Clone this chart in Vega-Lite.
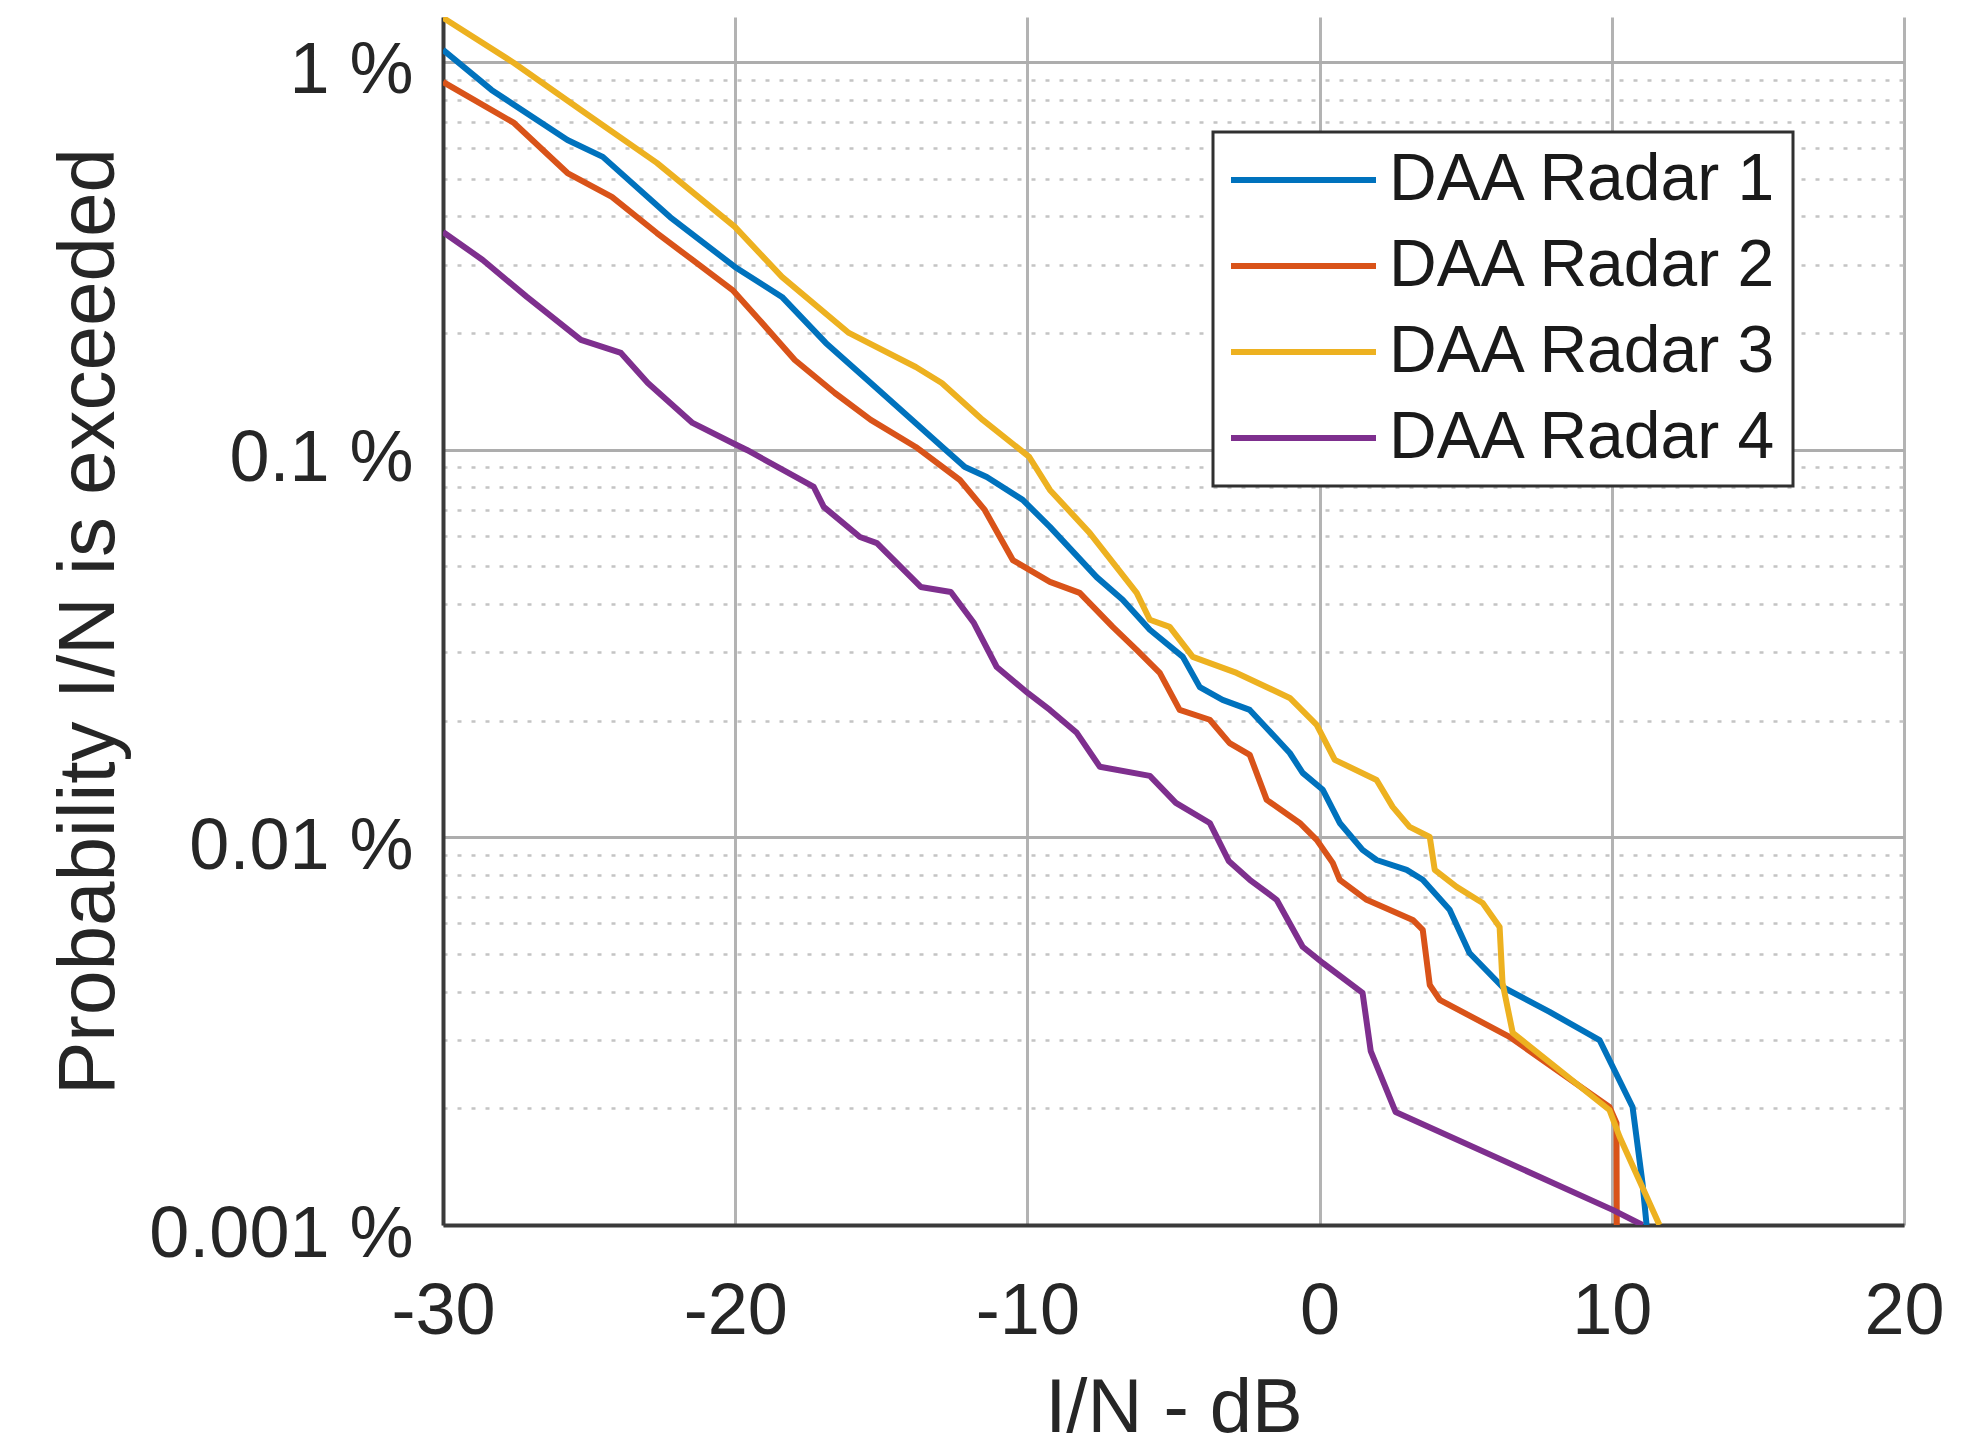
{
 "$schema": "https://vega.github.io/schema/vega-lite/v6.json",
 "width": 1461,
 "height": 1208,
 "autosize": {"type": "none"},
 "padding": {"left": 443, "top": 17, "right": 64, "bottom": 223},
 "background": "white",
 "config": {
  "view": {"stroke": null},
  "font": "Liberation Sans",
  "axis": {"labelFont": "Liberation Sans", "titleFont": "Liberation Sans", "labelColor": "#262626", "titleColor": "#262626", "titleFontWeight": "normal", "domainColor": "#3a3a3a", "domainWidth": 4, "ticks": false, "labelFlush": false, "labelOverlap": false, "labelLimit": 0},
  "legend": {"strokeWidth": 3}
 },
 "datasets": {
  "curves": [
   {"s":"DAA Radar 1","i":0,"x":-30.0,"p":1.074},{"s":"DAA Radar 1","i":1,"x":-28.34,"p":0.847},{"s":"DAA Radar 1","i":2,"x":-25.74,"p":0.629},{"s":"DAA Radar 1","i":3,"x":-24.53,"p":0.569},{"s":"DAA Radar 1","i":4,"x":-22.23,"p":0.398},{"s":"DAA Radar 1","i":5,"x":-20.01,"p":0.296},{"s":"DAA Radar 1","i":6,"x":-18.4,"p":0.2477},{"s":"DAA Radar 1","i":7,"x":-16.9,"p":0.1885},{"s":"DAA Radar 1","i":8,"x":-15.36,"p":0.1486},{"s":"DAA Radar 1","i":9,"x":-12.91,"p":0.1016},{"s":"DAA Radar 1","i":10,"x":-12.14,"p":0.0902},{"s":"DAA Radar 1","i":11,"x":-11.39,"p":0.085},{"s":"DAA Radar 1","i":12,"x":-10.16,"p":0.0742},{"s":"DAA Radar 1","i":13,"x":-9.23,"p":0.0632},{"s":"DAA Radar 1","i":14,"x":-7.63,"p":0.0469},{"s":"DAA Radar 1","i":15,"x":-6.74,"p":0.041},{"s":"DAA Radar 1","i":16,"x":-5.81,"p":0.0343},{"s":"DAA Radar 1","i":17,"x":-4.68,"p":0.0292},{"s":"DAA Radar 1","i":18,"x":-4.1,"p":0.0244},{"s":"DAA Radar 1","i":19,"x":-3.32,"p":0.02262},{"s":"DAA Radar 1","i":20,"x":-2.39,"p":0.02131},{"s":"DAA Radar 1","i":21,"x":-1.02,"p":0.0165},{"s":"DAA Radar 1","i":22,"x":-0.58,"p":0.01466},{"s":"DAA Radar 1","i":23,"x":0.11,"p":0.01326},{"s":"DAA Radar 1","i":24,"x":0.69,"p":0.01089},{"s":"DAA Radar 1","i":25,"x":1.47,"p":0.00928},{"s":"DAA Radar 1","i":26,"x":1.95,"p":0.00874},{"s":"DAA Radar 1","i":27,"x":2.98,"p":0.00824},{"s":"DAA Radar 1","i":28,"x":3.53,"p":0.00777},{"s":"DAA Radar 1","i":29,"x":4.45,"p":0.0065},{"s":"DAA Radar 1","i":30,"x":5.13,"p":0.00503},{"s":"DAA Radar 1","i":31,"x":6.26,"p":0.00411},{"s":"DAA Radar 1","i":32,"x":7.87,"p":0.003545},{"s":"DAA Radar 1","i":33,"x":9.58,"p":0.003},{"s":"DAA Radar 1","i":34,"x":10.71,"p":0.002016},{"s":"DAA Radar 1","i":35,"x":11.05,"p":0.001284},{"s":"DAA Radar 1","i":36,"x":11.19,"p":0.001},
   {"s":"DAA Radar 2","i":0,"x":-30.0,"p":0.888},{"s":"DAA Radar 2","i":1,"x":-27.57,"p":0.696},{"s":"DAA Radar 2","i":2,"x":-25.74,"p":0.517},{"s":"DAA Radar 2","i":3,"x":-24.22,"p":0.4485},{"s":"DAA Radar 2","i":4,"x":-22.68,"p":0.362},{"s":"DAA Radar 2","i":5,"x":-21.46,"p":0.3085},{"s":"DAA Radar 2","i":6,"x":-20.09,"p":0.258},{"s":"DAA Radar 2","i":7,"x":-19.17,"p":0.216},{"s":"DAA Radar 2","i":8,"x":-17.96,"p":0.1703},{"s":"DAA Radar 2","i":9,"x":-16.59,"p":0.14},{"s":"DAA Radar 2","i":10,"x":-15.36,"p":0.1193},{"s":"DAA Radar 2","i":11,"x":-13.82,"p":0.1016},{"s":"DAA Radar 2","i":12,"x":-12.31,"p":0.0835},{"s":"DAA Radar 2","i":13,"x":-11.46,"p":0.0699},{"s":"DAA Radar 2","i":14,"x":-10.5,"p":0.0519},{"s":"DAA Radar 2","i":15,"x":-9.23,"p":0.0456},{"s":"DAA Radar 2","i":16,"x":-8.21,"p":0.0427},{"s":"DAA Radar 2","i":17,"x":-7.08,"p":0.0349},{"s":"DAA Radar 2","i":18,"x":-6.26,"p":0.03045},{"s":"DAA Radar 2","i":19,"x":-5.47,"p":0.02655},{"s":"DAA Radar 2","i":20,"x":-4.79,"p":0.02131},{"s":"DAA Radar 2","i":21,"x":-3.76,"p":0.0201},{"s":"DAA Radar 2","i":22,"x":-3.08,"p":0.0175},{"s":"DAA Radar 2","i":23,"x":-2.39,"p":0.01632},{"s":"DAA Radar 2","i":24,"x":-1.81,"p":0.01249},{"s":"DAA Radar 2","i":25,"x":-0.68,"p":0.01089},{"s":"DAA Radar 2","i":26,"x":-0.1,"p":0.00985},{"s":"DAA Radar 2","i":27,"x":0.45,"p":0.00859},{"s":"DAA Radar 2","i":28,"x":0.69,"p":0.00777},{"s":"DAA Radar 2","i":29,"x":1.61,"p":0.0069},{"s":"DAA Radar 2","i":30,"x":3.19,"p":0.00612},{"s":"DAA Radar 2","i":31,"x":3.53,"p":0.00577},{"s":"DAA Radar 2","i":32,"x":3.77,"p":0.00416},{"s":"DAA Radar 2","i":33,"x":4.11,"p":0.00381},{"s":"DAA Radar 2","i":34,"x":6.5,"p":0.003056},{"s":"DAA Radar 2","i":35,"x":9.92,"p":0.002016},{"s":"DAA Radar 2","i":36,"x":10.16,"p":0.001834},{"s":"DAA Radar 2","i":37,"x":10.17,"p":0.001},
   {"s":"DAA Radar 3","i":0,"x":-30.0,"p":1.3},{"s":"DAA Radar 3","i":1,"x":-27.57,"p":0.994},{"s":"DAA Radar 3","i":2,"x":-25.28,"p":0.752},{"s":"DAA Radar 3","i":3,"x":-22.68,"p":0.549},{"s":"DAA Radar 3","i":4,"x":-20.01,"p":0.3754},{"s":"DAA Radar 3","i":5,"x":-18.4,"p":0.279},{"s":"DAA Radar 3","i":6,"x":-16.11,"p":0.2},{"s":"DAA Radar 3","i":7,"x":-13.82,"p":0.1634},{"s":"DAA Radar 3","i":8,"x":-12.93,"p":0.1486},{"s":"DAA Radar 3","i":9,"x":-11.53,"p":0.1193},{"s":"DAA Radar 3","i":10,"x":-9.94,"p":0.0958},{"s":"DAA Radar 3","i":11,"x":-9.23,"p":0.0787},{"s":"DAA Radar 3","i":12,"x":-7.87,"p":0.061},{"s":"DAA Radar 3","i":13,"x":-6.26,"p":0.0427},{"s":"DAA Radar 3","i":14,"x":-5.81,"p":0.0364},{"s":"DAA Radar 3","i":15,"x":-5.13,"p":0.0349},{"s":"DAA Radar 3","i":16,"x":-4.34,"p":0.0292},{"s":"DAA Radar 3","i":17,"x":-2.84,"p":0.02655},{"s":"DAA Radar 3","i":18,"x":-1.02,"p":0.02288},{"s":"DAA Radar 3","i":19,"x":-0.1,"p":0.0195},{"s":"DAA Radar 3","i":20,"x":0.52,"p":0.01584},{"s":"DAA Radar 3","i":21,"x":1.95,"p":0.01406},{"s":"DAA Radar 3","i":22,"x":2.5,"p":0.01198},{"s":"DAA Radar 3","i":23,"x":3.08,"p":0.01064},{"s":"DAA Radar 3","i":24,"x":3.77,"p":0.01002},{"s":"DAA Radar 3","i":25,"x":3.94,"p":0.00824},{"s":"DAA Radar 3","i":26,"x":4.69,"p":0.00745},{"s":"DAA Radar 3","i":27,"x":5.58,"p":0.00677},{"s":"DAA Radar 3","i":28,"x":6.16,"p":0.00587},{"s":"DAA Radar 3","i":29,"x":6.26,"p":0.00421},{"s":"DAA Radar 3","i":30,"x":6.61,"p":0.00313},{"s":"DAA Radar 3","i":31,"x":9.92,"p":0.00198},{"s":"DAA Radar 3","i":32,"x":10.27,"p":0.001687},{"s":"DAA Radar 3","i":33,"x":11.63,"p":0.001},
   {"s":"DAA Radar 4","i":0,"x":-30.0,"p":0.3643},{"s":"DAA Radar 4","i":1,"x":-28.64,"p":0.3085},{"s":"DAA Radar 4","i":2,"x":-27.13,"p":0.2477},{"s":"DAA Radar 4","i":3,"x":-25.28,"p":0.1919},{"s":"DAA Radar 4","i":4,"x":-23.91,"p":0.1776},{"s":"DAA Radar 4","i":5,"x":-22.99,"p":0.1486},{"s":"DAA Radar 4","i":6,"x":-21.46,"p":0.1172},{"s":"DAA Radar 4","i":7,"x":-20.09,"p":0.104},{"s":"DAA Radar 4","i":8,"x":-19.6,"p":0.0998},{"s":"DAA Radar 4","i":9,"x":-17.31,"p":0.0801},{"s":"DAA Radar 4","i":10,"x":-16.97,"p":0.0712},{"s":"DAA Radar 4","i":11,"x":-15.73,"p":0.0595},{"s":"DAA Radar 4","i":12,"x":-15.15,"p":0.0574},{"s":"DAA Radar 4","i":13,"x":-13.65,"p":0.04424},{"s":"DAA Radar 4","i":14,"x":-12.62,"p":0.04295},{"s":"DAA Radar 4","i":15,"x":-11.83,"p":0.0357},{"s":"DAA Radar 4","i":16,"x":-11.05,"p":0.0275},{"s":"DAA Radar 4","i":17,"x":-9.99,"p":0.02357},{"s":"DAA Radar 4","i":18,"x":-9.23,"p":0.02131},{"s":"DAA Radar 4","i":19,"x":-8.31,"p":0.0186},{"s":"DAA Radar 4","i":20,"x":-7.52,"p":0.0152},{"s":"DAA Radar 4","i":21,"x":-5.81,"p":0.0144},{"s":"DAA Radar 4","i":22,"x":-4.92,"p":0.01227},{"s":"DAA Radar 4","i":23,"x":-3.76,"p":0.01089},{"s":"DAA Radar 4","i":24,"x":-3.11,"p":0.00869},{"s":"DAA Radar 4","i":25,"x":-2.39,"p":0.00777},{"s":"DAA Radar 4","i":26,"x":-1.47,"p":0.0069},{"s":"DAA Radar 4","i":27,"x":-0.58,"p":0.00522},{"s":"DAA Radar 4","i":28,"x":0.11,"p":0.00474},{"s":"DAA Radar 4","i":29,"x":1.47,"p":0.00397},{"s":"DAA Radar 4","i":30,"x":1.75,"p":0.00281},{"s":"DAA Radar 4","i":31,"x":2.6,"p":0.001957},{"s":"DAA Radar 4","i":32,"x":10.03,"p":0.001094},{"s":"DAA Radar 4","i":33,"x":11.05,"p":0.001}
  ]
 },
 "data": {"name": "curves"},
 "mark": {"type": "line", "strokeWidth": 6, "clip": true, "strokeJoin": "round"},
 "encoding": {
  "x": {"field": "x", "type": "quantitative",
   "scale": {"domain": [-30, 20], "nice": false, "zero": false},
   "axis": {"values": [-30, -20, -10, 0, 10, 20], "labelExpr": "'' + datum.value", "title": "I/N - dB", "labelFontSize": 72, "titleFontSize": 76, "labelPadding": 51, "titlePadding": 24, "gridColor": "#b3b3b3", "gridWidth": 3}},
  "y": {"field": "p", "type": "quantitative",
   "scale": {"type": "log", "domain": [0.001, 1.306], "nice": false},
   "axis": {"values": [0.001,0.002,0.003,0.004,0.005,0.006,0.007,0.008,0.009,0.01,0.02,0.03,0.04,0.05,0.06,0.07,0.08,0.09,0.1,0.2,0.3,0.4,0.5,0.6,0.7,0.8,0.9,1],
    "labelExpr": "abs(log(datum.value)/LN10 - round(log(datum.value)/LN10)) > 0.01 ? '' : datum.value + ' %'",
    "labelFontSize": 72, "labelPadding": 30, "labelOffset": 9,
    "title": "Probability I/N is exceeded", "titleFontSize": 80, "titleX": -313, "titleY": 604, "titleAngle": -90, "titleBaseline": "bottom", "titleAlign": "center",
    "gridColor": {"condition": {"test": "abs(log(datum.value)/LN10 - round(log(datum.value)/LN10)) > 0.01", "value": "#c4c4c4"}, "value": "#adadad"},
    "gridDash": {"condition": {"test": "abs(log(datum.value)/LN10 - round(log(datum.value)/LN10)) > 0.01", "value": [4, 10]}, "value": []},
    "gridWidth": {"condition": {"test": "abs(log(datum.value)/LN10 - round(log(datum.value)/LN10)) > 0.01", "value": 2.5}, "value": 3}}},
  "color": {"field": "s", "type": "nominal",
   "scale": {"domain": ["DAA Radar 1", "DAA Radar 2", "DAA Radar 3", "DAA Radar 4"], "range": ["#0072BD", "#D95319", "#EDB120", "#7E2F8E"]},
   "legend": {"orient": "none", "legendX": 770, "legendY": 115, "title": null, "symbolType": "stroke", "symbolSize": 21025, "symbolStrokeWidth": 6, "labelFontSize": 66, "labelFont": "Liberation Sans", "labelColor": "#1a1a1a", "fillColor": "white", "strokeColor": "#303030", "padding": 15, "rowPadding": 20, "clipHeight": 66, "labelOffset": 10, "labelLimit": 0}},
  "order": {"field": "i", "type": "quantitative"}
 }
}
